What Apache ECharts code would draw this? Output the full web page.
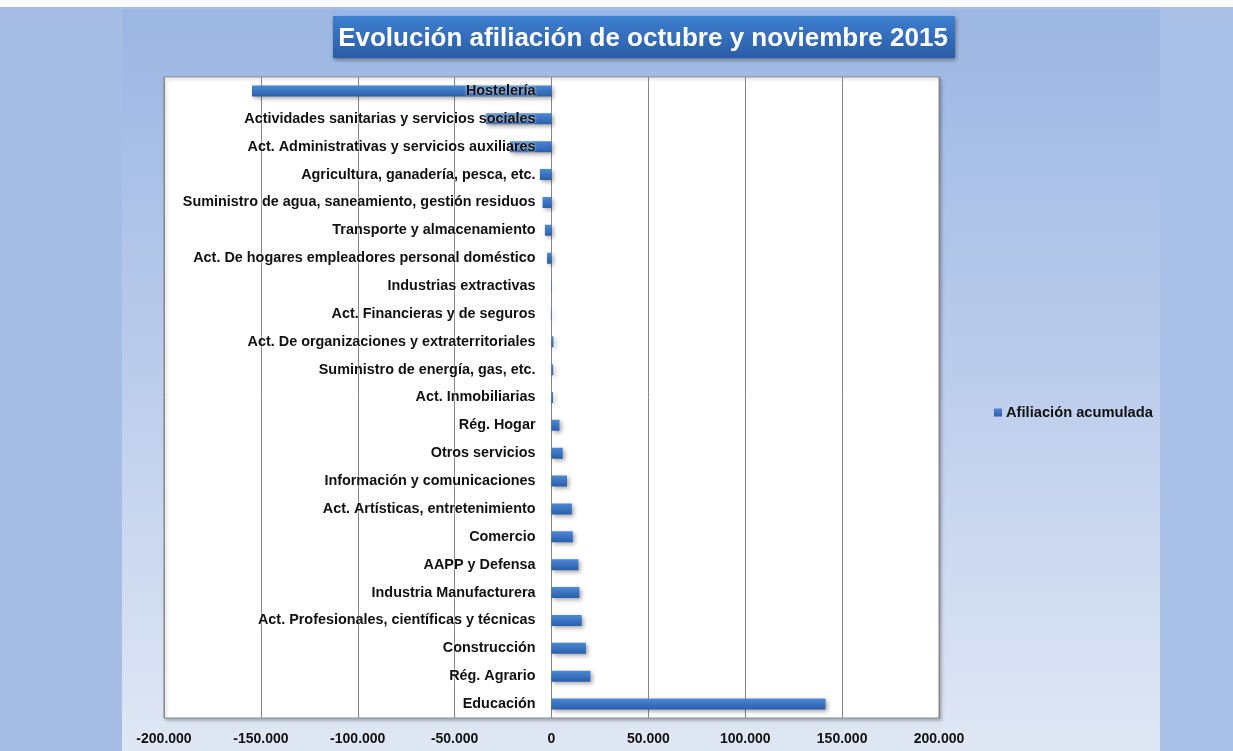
<!DOCTYPE html>
<html>
<head>
<meta charset="utf-8">
<script src="https://cdn.jsdelivr.net/npm/echarts@6/dist/echarts.min.js"></script>
<style>
html,body{margin:0;padding:0;background:#fbfbfd;}
#chart{width:1233px;height:751px;}
</style>
</head>
<body>
<div id="chart"></div>
<script>
var titleText = 'Evolución afiliación de octubre y noviembre 2015';
var seriesName = 'Afiliación acumulada';
var categories = [
  'Hostelería',
  'Actividades sanitarias y servicios sociales',
  'Act. Administrativas y servicios auxiliares',
  'Agricultura, ganadería, pesca, etc.',
  'Suministro de agua, saneamiento, gestión residuos',
  'Transporte y almacenamiento',
  'Act. De hogares empleadores personal doméstico',
  'Industrias extractivas',
  'Act. Financieras y de seguros',
  'Act. De organizaciones y extraterritoriales',
  'Suministro de energía, gas, etc.',
  'Act. Inmobiliarias',
  'Rég. Hogar',
  'Otros servicios',
  'Información y comunicaciones',
  'Act. Artísticas, entretenimiento',
  'Comercio',
  'AAPP y Defensa',
  'Industria Manufacturera',
  'Act. Profesionales, científicas y técnicas',
  'Construcción',
  'Rég. Agrario',
  'Educación'
];
var values = [
  -154600, -33900, -21500, -6000, -4600, -3400, -2300, -200, -300,
  1000, 900, 800, 4100, 5800, 8000, 10500, 11000, 13900, 14400,
  15600, 17800, 20100, 141400
];
var xMin = -200000, xMax = 200000, xStep = 50000;

function fmt(v){
  var s = Math.abs(v).toString().replace(/\B(?=(\d{3})+(?!\d))/g, '.');
  return (v < 0 ? '-' : '') + s;
}

var gridLeft = 164;
var chart = echarts.init(document.getElementById('chart'), null, {renderer:'canvas'});
var font = "'Liberation Sans', Arial, sans-serif";
chart.setOption({
  backgroundColor: '#fbfbfd',
  animation: false,
  graphic: [
    {type:'rect', z:-10, shape:{x:0,y:7,width:122,height:744}, style:{fill:'#a6bde6'}},
    {type:'rect', z:-10, shape:{x:1160,y:7,width:73,height:744}, style:{fill:'#a8bfe6'}},
    {type:'rect', z:-10, shape:{x:122,y:10,width:1038,height:741},
      style:{fill:new echarts.graphic.LinearGradient(0,0,0,1,[{offset:0,color:'#9cb7e3'},{offset:0.5,color:'#bccdec'},{offset:1,color:'#e0e7f4'}])}},
    {type:'rect', z:-10, shape:{x:122,y:7,width:1038,height:3}, style:{fill:'#a4bce5'}},
    {type:'rect', z:-5, shape:{x:164,y:77,width:775,height:641},
      style:{fill:'#ffffff', stroke:'#8c8c8c', lineWidth:1, shadowColor:'rgba(0,0,0,0.25)', shadowBlur:3, shadowOffsetX:2, shadowOffsetY:2}},
    {type:'rect', z:1, shape:{x:333,y:16,width:622,height:42},
      style:{fill:new echarts.graphic.LinearGradient(0,0,0,1,[{offset:0,color:'#3d7fd0'},{offset:1,color:'#2a5ca6'}]),
        shadowColor:'rgba(0,0,0,0.4)', shadowBlur:4, shadowOffsetX:1, shadowOffsetY:2}}
  ],
  title: {
    text: titleText,
    left: 638, top: 21, textAlign: 'center',
    z: 5,
    textStyle: {color:'#ffffff', fontFamily:font, fontWeight:'bold', fontSize:26}
  },
  legend: {
    data: [seriesName],
    left: 989, top: 400,
    icon: 'rect', itemWidth: 8, itemHeight: 8, itemGap: 4,
    textStyle: {color:'#111', fontFamily:font, fontWeight:'bold', fontSize:14.7, padding:[0,0,0,-1]}
  },
  grid: {left:gridLeft, right:294, top:77, bottom:33, containLabel:false, outerBoundsMode:'none'},
  xAxis: {
    type: 'value', min: xMin, max: xMax, interval: xStep,
    axisLine: {show:false}, axisTick: {show:false},
    splitLine: {show:true, lineStyle:{color:'#858585', width:1}},
    axisLabel: {formatter: fmt, color:'#111', fontFamily:font, fontWeight:'bold', fontSize:14, margin:14}
  },
  yAxis: {
    type: 'category', data: categories, inverse: true,
    axisLine: {show:false, onZero:false}, axisTick: {show:false},
    splitLine: {show:false},
    z: 10,
    axisLabel: {color:'#111', fontFamily:font, fontWeight:'bold', fontSize:14.4, margin:16,
      textShadowColor:'rgba(255,255,255,0.9)', textShadowBlur:3}
  },
  series: [{
    name: seriesName, type: 'bar', data: values, barWidth: 11,
    itemStyle: {
      color: new echarts.graphic.LinearGradient(0,0,0,1,[{offset:0,color:'#4a88d6'},{offset:1,color:'#2b5ea9'}]),
      shadowColor:'rgba(0,0,0,0.35)', shadowBlur:4, shadowOffsetX:2, shadowOffsetY:2
    }
  }]
});
// place the category labels next to the zero line, as in the original
var zeroX = chart.convertToPixel({xAxisIndex:0}, 0);
chart.setOption({yAxis: {offset: -(zeroX - gridLeft)}});
</script>
</body>
</html>
